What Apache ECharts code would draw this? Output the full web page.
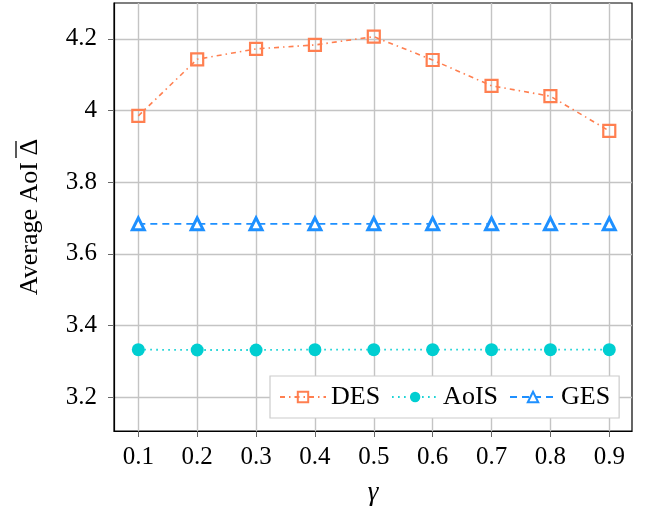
<!DOCTYPE html>
<html><head><meta charset="utf-8">
<script src="https://cdn.jsdelivr.net/npm/echarts@6/dist/echarts.min.js"></script>
<style>html,body{margin:0;padding:0;background:#fff}#c{width:646px;height:514px}</style>
</head><body><div id="c"></div>
<script>
const gamma = [0.1, 0.2, 0.3, 0.4, 0.5, 0.6, 0.7, 0.8, 0.9];
const des = [3.985, 4.143, 4.172, 4.183, 4.206, 4.141, 4.069, 4.040, 3.943];
const aois = [3.333, 3.332, 3.332, 3.333, 3.333, 3.333, 3.333, 3.333, 3.333];
const ges = [3.684, 3.684, 3.684, 3.684, 3.684, 3.684, 3.684, 3.684, 3.684];
const xTicks = [0.1, 0.2, 0.3, 0.4, 0.5, 0.6, 0.7, 0.8, 0.9];
const yTicks = [3.2, 3.4, 3.6, 3.8, 4.0, 4.2];

const serif = '"Liberation Serif", serif';
const chart = echarts.init(document.getElementById('c'), null, {renderer: 'canvas'});
const pair = (xs, ys) => xs.map((x, i) => [x, ys[i]]);
chart.setOption({
  animation: false,
  grid: {left: 114, top: 3, right: 14, bottom: 83, show: true, borderColor: '#000', borderWidth: 1.2, containLabel: false},
  graphic: [{type: 'line', shape: {x1: 16, y1: 141, x2: 16, y2: 158}, style: {stroke: '#000', lineWidth: 1.3}, silent: true}],
  xAxis: {
    type: 'value', min: 0.0587, max: 0.9386,
    name: 'γ', nameLocation: 'middle', nameGap: 48,
    nameTextStyle: {fontFamily: serif, fontStyle: 'italic', fontSize: 27, color: '#000'},
    axisLine: {show: true, onZero: false, lineStyle: {color: '#000', width: 1.2}},
    axisTick: {show: true, length: 6, inside: false, customValues: xTicks, lineStyle: {color: '#666'}},
    axisLabel: {customValues: xTicks, fontFamily: serif, fontSize: 25, color: '#000', margin: 14,
      formatter: v => v.toFixed(1)},
    splitLine: {show: true, lineStyle: {color: '#c4c4c4', width: 1.4}}
  },
  yAxis: {
    type: 'value', min: 3.106, max: 4.30,
    name: 'Average AoI Δ', nameLocation: 'middle', nameGap: 71,
    nameTextStyle: {fontFamily: serif, fontSize: 26, color: '#000'},
    axisLine: {show: true, onZero: false, lineStyle: {color: '#000', width: 1.2}},
    axisTick: {show: true, length: 6, inside: false, customValues: yTicks, lineStyle: {color: '#666'}},
    axisLabel: {customValues: yTicks, fontFamily: serif, fontSize: 25, color: '#000', margin: 17,
      formatter: v => (Math.abs(v - 4) < 1e-9 ? '4' : v.toFixed(1))},
    splitLine: {show: true, lineStyle: {color: '#c4c4c4', width: 1.4}}
  },
  legend: {
    left: 270, top: 376, width: 347, height: 44,
    padding: [8, 9, 8, 9],
    borderColor: '#ccc', borderWidth: 1.2, backgroundColor: '#fff',
    itemWidth: 46, itemHeight: 13, itemGap: 11,
    textStyle: {fontFamily: serif, fontSize: 26, color: '#000'},
    data: ['DES', 'AoIS', 'GES']
  },
  series: [
    {name: 'DES', type: 'line', data: pair(gamma, des), symbol: 'rect', symbolSize: 12,
      itemStyle: {color: 'rgba(255,255,255,0)', borderColor: '#ff7f50', borderWidth: 2.2},
      lineStyle: {color: '#ff7f50', width: 1.6, type: [5, 4, 1.5, 4]}, color: '#ff7f50'},
    {name: 'AoIS', type: 'line', data: pair(gamma, aois), symbol: 'circle', symbolSize: 13,
      itemStyle: {color: '#00ced1'},
      lineStyle: {color: '#00ced1', width: 1.8, type: [1.5, 4.5]}, color: '#00ced1'},
    {name: 'GES', type: 'line', data: pair(gamma, ges), symbol: 'triangle', symbolSize: 12,
      itemStyle: {color: '#fff', borderColor: '#1e90ff', borderWidth: 3},
      lineStyle: {color: '#1e90ff', width: 1.7, type: [7, 5]}, color: '#1e90ff'}
  ]
});
</script></body></html>
